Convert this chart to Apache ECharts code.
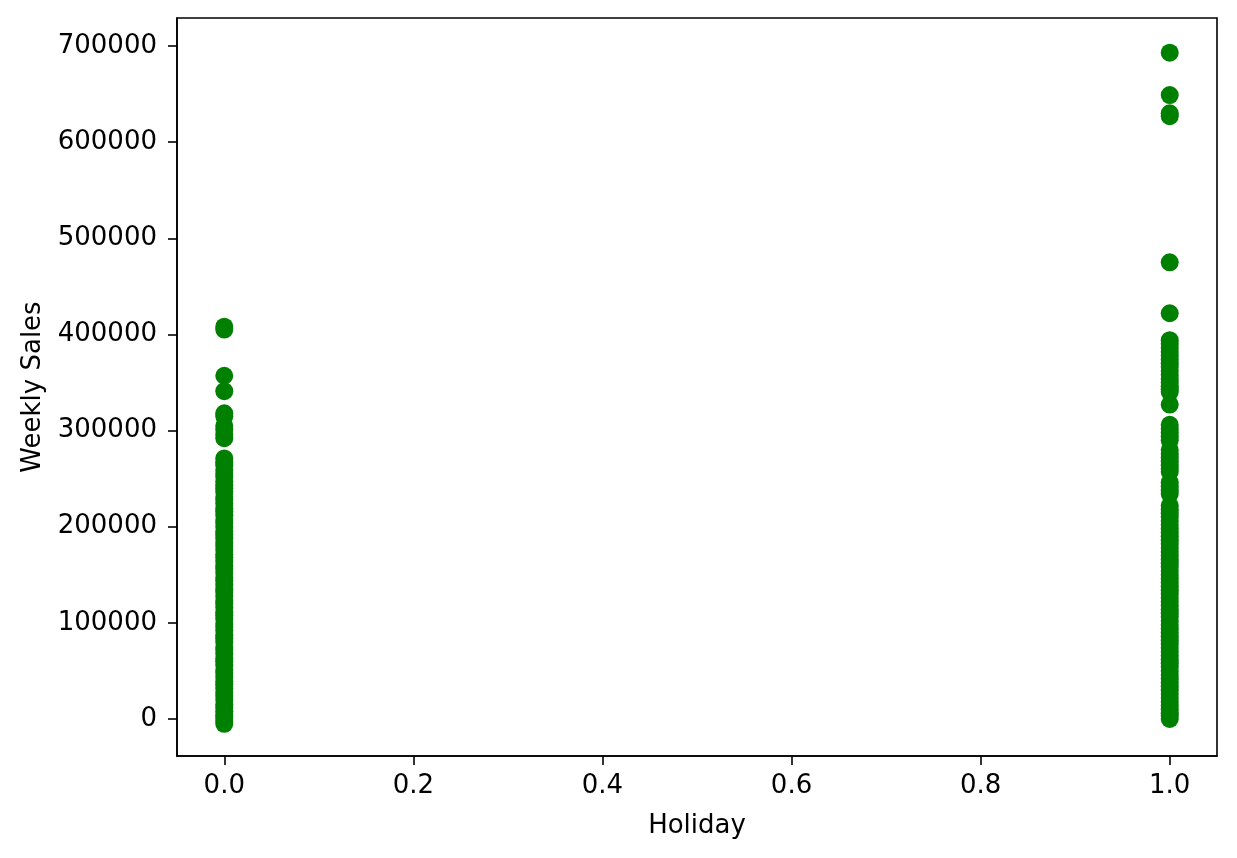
<!DOCTYPE html>
<html>
<head>
<meta charset="utf-8">
<script src="https://cdn.jsdelivr.net/npm/echarts@6/dist/echarts.min.js"></script>
<style>
html, body { margin: 0; padding: 0; background: #fff; }
#chart { width: 1237px; height: 858px; }
</style>
</head>
<body>
<div id="chart"></div>
<script>
// Holiday flag categories (x positions)
const holidayFlags = [0, 1];

// Weekly sales, non-holiday weeks (Holiday = 0)
const holiday0Sales = [
  408000, 405000, 357000, 341000, 318000, 315000, 305000, 301000, 296000, 292000,
  271000, 267000, 264000, 259000, 255000, 252000, 247000, 243000, 240000, 236000,
  231000, 228000, 224000, 219000, 216000, 212000, 207000, 204000, 200000, 195000,
  192000, 188000, 183000, 180000, 176000, 171000, 168000, 164000, 159000, 156000,
  152000, 147000, 144000, 140000, 135000, 132000, 128000, 123000, 120000, 116000,
  111000, 108000, 104000, 99000, 96000, 92000, 87000, 84000, 80000, 75000,
  72000, 68000, 63000, 60000, 56000, 51000, 48000, 44000, 39000, 36000,
  32000, 27000, 24000, 20000, 15000, 12000, 8000, 4000, 1000, -2000, -5000
];

// Weekly sales, holiday weeks (Holiday = 1)
const holiday1Sales = [
  693000, 649000, 630000, 627000, 475000, 422000,
  394000, 390000, 386000, 382000, 378000, 374000, 370000, 366000, 362000, 358000,
  354000, 350000, 346000, 343000, 340000, 327000,
  306000, 302000, 298000, 294000, 290000,
  280000, 276000, 272000, 268000, 264000, 260000, 257000,
  246000, 242000, 238000, 234000,
  222000, 218000, 214000, 210000, 206000, 202000, 198000, 194000, 190000, 186000,
  182000, 178000, 174000, 170000, 166000, 162000, 158000, 154000, 150000, 146000,
  142000, 138000, 134000, 130000, 126000, 122000, 118000, 114000, 110000, 106000,
  102000, 98000, 94000, 90000, 86000, 82000, 78000, 74000, 70000, 66000,
  62000, 58000, 54000, 50000, 46000, 42000, 38000, 34000, 30000, 26000,
  22000, 18000, 14000, 10000, 6000, 3000, 0
];

// Tick labels
const xTicks = [0, 0.2, 0.4, 0.6, 0.8, 1.0];
const yTicks = [0, 100000, 200000, 300000, 400000, 500000, 600000, 700000];

const points = [];
holiday0Sales.forEach(v => points.push([holidayFlags[0], v]));
holiday1Sales.forEach(v => points.push([holidayFlags[1], v]));

const font = 'DejaVu Sans';
const chart = echarts.init(document.getElementById('chart'), null, { renderer: 'canvas' });
chart.setOption({
  animation: false,
  backgroundColor: '#ffffff',
  grid: {
    left: 177, right: 20, top: 18, bottom: 102,
    show: true, borderColor: '#000', borderWidth: 1.6, backgroundColor: 'transparent'
  },
  xAxis: {
    type: 'value',
    min: -0.05, max: 1.05,
    name: 'Holiday',
    nameLocation: 'middle',
    nameGap: 57,
    nameTextStyle: { fontFamily: font, fontSize: 26, color: '#000' },
    axisLine: { show: true, onZero: false, lineStyle: { color: '#000', width: 1.6 } },
    axisTick: { show: true, inside: false, length: 9, customValues: xTicks, lineStyle: { color: '#000', width: 1.6 } },
    axisLabel: {
      customValues: xTicks, margin: 17, fontFamily: font, fontSize: 26, color: '#000',
      formatter: v => Number(v).toFixed(1)
    },
    splitLine: { show: false }
  },
  yAxis: {
    type: 'value',
    min: -38500, max: 729100,
    name: 'Weekly Sales',
    nameLocation: 'middle',
    nameGap: 131,
    nameTextStyle: { fontFamily: font, fontSize: 26, color: '#000' },
    axisLine: { show: true, onZero: false, lineStyle: { color: '#000', width: 1.6 } },
    axisTick: { show: true, inside: false, length: 9, customValues: yTicks, lineStyle: { color: '#000', width: 1.6 } },
    axisLabel: {
      customValues: yTicks, margin: 20, fontFamily: font, fontSize: 26, color: '#000',
      formatter: v => String(v)
    },
    splitLine: { show: false }
  },
  series: [{
    type: 'scatter',
    data: points,
    symbol: 'circle',
    symbolSize: 18,
    itemStyle: { color: '#008000', opacity: 1 },
    emphasis: { disabled: true }
  }]
});
</script>
</body>
</html>
